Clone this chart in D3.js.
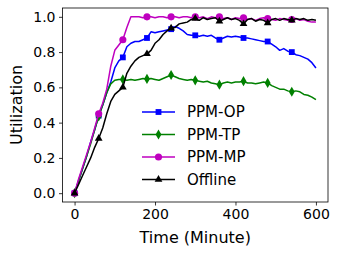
<!DOCTYPE html>
<html>
<head>
<meta charset="utf-8">
<script src="https://cdn.jsdelivr.net/npm/d3@7"></script>
<style>
  body { margin: 0; background: #fff; }
  svg { display: block; font-family: "DejaVu Sans", sans-serif; }
</style>
</head>
<body>
<svg id="chart" width="338" height="256"></svg>
<script>
// time in minutes, one sample every 10 minutes
const times = d3.range(0, 601, 10);

const ppmOP = [0.0, 0.07, 0.14, 0.21, 0.29, 0.36, 0.44, 0.50, 0.57, 0.63,
  0.71, 0.75, 0.77, 0.83, 0.85, 0.86, 0.86, 0.87, 0.88, 0.915,
  0.91, 0.915, 0.92, 0.925, 0.93, 0.945, 0.935, 0.92, 0.90, 0.895,
  0.895, 0.89, 0.895, 0.89, 0.895, 0.88, 0.87, 0.88, 0.89, 0.885,
  0.89, 0.885, 0.88, 0.88, 0.875, 0.87, 0.865, 0.86, 0.86, 0.845,
  0.83, 0.81, 0.82, 0.805, 0.80, 0.785, 0.78, 0.77, 0.76, 0.74, 0.71];

const ppmTP = [0.0, 0.07, 0.14, 0.21, 0.28, 0.36, 0.435, 0.50, 0.57, 0.62,
  0.64, 0.645, 0.645, 0.64, 0.645, 0.64, 0.645, 0.65, 0.648, 0.65,
  0.645, 0.64, 0.65, 0.66, 0.67, 0.66, 0.65, 0.645, 0.64, 0.645,
  0.64, 0.635, 0.63, 0.635, 0.625, 0.62, 0.615, 0.625, 0.63, 0.625,
  0.63, 0.63, 0.635, 0.625, 0.625, 0.62, 0.625, 0.63, 0.625, 0.61,
  0.60, 0.59, 0.59, 0.58, 0.575, 0.58, 0.575, 0.56, 0.555, 0.545, 0.53];

const ppmMP = [0.0, 0.08, 0.15, 0.22, 0.29, 0.37, 0.45, 0.51, 0.59, 0.72,
  0.81, 0.84, 0.87, 0.94, 1.0, 1.0, 1.0, 0.995, 1.0, 1.0,
  0.995, 1.0, 1.0, 0.995, 1.0, 1.0, 0.995, 1.0, 1.0, 0.995,
  1.0, 0.995, 1.0, 0.99, 1.0, 0.995, 1.0, 0.99, 0.995, 0.985,
  0.995, 0.99, 0.995, 0.985, 0.99, 0.98, 0.99, 0.995, 0.99, 0.985,
  0.98, 0.99, 0.985, 0.98, 0.985, 0.99, 0.98, 0.985, 0.975, 0.97, 0.97];

const offline = [0.0, 0.05, 0.10, 0.15, 0.20, 0.26, 0.31, 0.37, 0.45, 0.52,
  0.56, 0.58, 0.60, 0.68, 0.72, 0.75, 0.77, 0.78, 0.79, 0.81,
  0.85, 0.87, 0.90, 0.92, 0.935, 0.94, 0.96, 0.965, 0.97, 0.985,
  0.99, 0.98, 0.995, 0.985, 0.99, 0.995, 0.975, 0.985, 0.995, 0.985,
  0.99, 0.98, 0.96, 0.985, 0.99, 0.975, 0.985, 0.98, 0.965, 0.985,
  0.99, 0.98, 0.99, 0.985, 0.98, 0.99, 0.985, 0.99, 0.98, 0.985, 0.98];

const xTicks = [0, 200, 400, 600];
const yTicks = [0.0, 0.2, 0.4, 0.6, 0.8, 1.0];

const series = [
  { name: 'PPM-OP', values: ppmOP, color: '#0000ff', symbol: d3.symbolSquare, size: 34 },
  { name: 'PPM-TP', values: ppmTP, color: '#008000', symbol: d3.symbolDiamond, size: 30 },
  { name: 'PPM-MP', values: ppmMP, color: '#bf00bf', symbol: d3.symbolCircle, size: 40 },
  { name: 'Offline', values: offline, color: '#000000', symbol: d3.symbolTriangle, size: 26 }
];

const svg = d3.select('#chart');
const plot = { left: 62.5, right: 328, top: 8, bottom: 202 };

const x = d3.scaleLinear().domain([-30, 630]).range([plot.left, plot.right]);
const y = d3.scaleLinear().domain([-0.05, 1.05]).range([plot.bottom, plot.top]);

// axes
const xAxis = svg.append('g')
  .attr('transform', `translate(0,${plot.bottom})`)
  .call(d3.axisBottom(x).tickValues(xTicks).tickSize(3.5).tickPadding(3.5).tickFormat(d3.format('d')));

const yAxis = svg.append('g')
  .attr('transform', `translate(${plot.left},0)`)
  .call(d3.axisLeft(y).tickValues(yTicks).tickSize(3.5).tickPadding(3.5).tickFormat(d3.format('.1f')));

[xAxis, yAxis].forEach(a => {
  a.select('.domain').remove();
  a.selectAll('line').attr('stroke', '#000').attr('stroke-width', 0.8);
  a.selectAll('text').attr('fill', '#000').style('font-size', '14px')
    .style('font-family', '"DejaVu Sans", sans-serif');
});

// lines and markers
const line = d3.line()
  .x((d, i) => x(times[i]))
  .y(d => y(d));

const lines = svg.append('g');
series.forEach(s => {
  lines.append('path')
    .attr('d', line(s.values))
    .attr('fill', 'none')
    .attr('stroke', s.color)
    .attr('stroke-width', 1.5)
    .attr('stroke-linejoin', 'round');

  const marks = times.map((t, i) => ({ t: t, v: s.values[i] }))
    .filter(d => d.t % 60 === 0 && d.t < 600);

  lines.selectAll(null)
    .data(marks)
    .enter()
    .append('path')
      .attr('d', d3.symbol().type(s.symbol).size(s.size))
      .attr('transform', d => `translate(${x(d.t)},${y(d.v)})`)
      .attr('fill', s.color);
});

// frame
svg.append('rect')
  .attr('x', plot.left).attr('y', plot.top)
  .attr('width', plot.right - plot.left).attr('height', plot.bottom - plot.top)
  .attr('fill', 'none').attr('stroke', '#000').attr('stroke-width', 0.8);

// legend
const legend = svg.append('g');
series.forEach((s, i) => {
  const ly = 112 + i * 22.5;
  legend.append('line')
    .attr('x1', 142).attr('x2', 175)
    .attr('y1', ly).attr('y2', ly)
    .attr('stroke', s.color).attr('stroke-width', 1.5);
  legend.append('path')
    .attr('d', d3.symbol().type(s.symbol).size(s.size))
    .attr('transform', `translate(158.5,${ly})`)
    .attr('fill', s.color);
  legend.append('text')
    .attr('x', 187).attr('y', ly)
    .attr('dy', '0.36em')
    .style('font-size', '15px')
    .text(s.name);
});

// axis labels
svg.append('text')
  .attr('x', (plot.left + plot.right) / 2).attr('y', 243)
  .attr('text-anchor', 'middle')
  .style('font-size', '16px')
  .text('Time (Minute)');

svg.append('text')
  .attr('transform', `translate(22,${(plot.top + plot.bottom) / 2}) rotate(-90)`)
  .attr('text-anchor', 'middle')
  .style('font-size', '16px')
  .text('Utilization');
</script>
</body>
</html>
